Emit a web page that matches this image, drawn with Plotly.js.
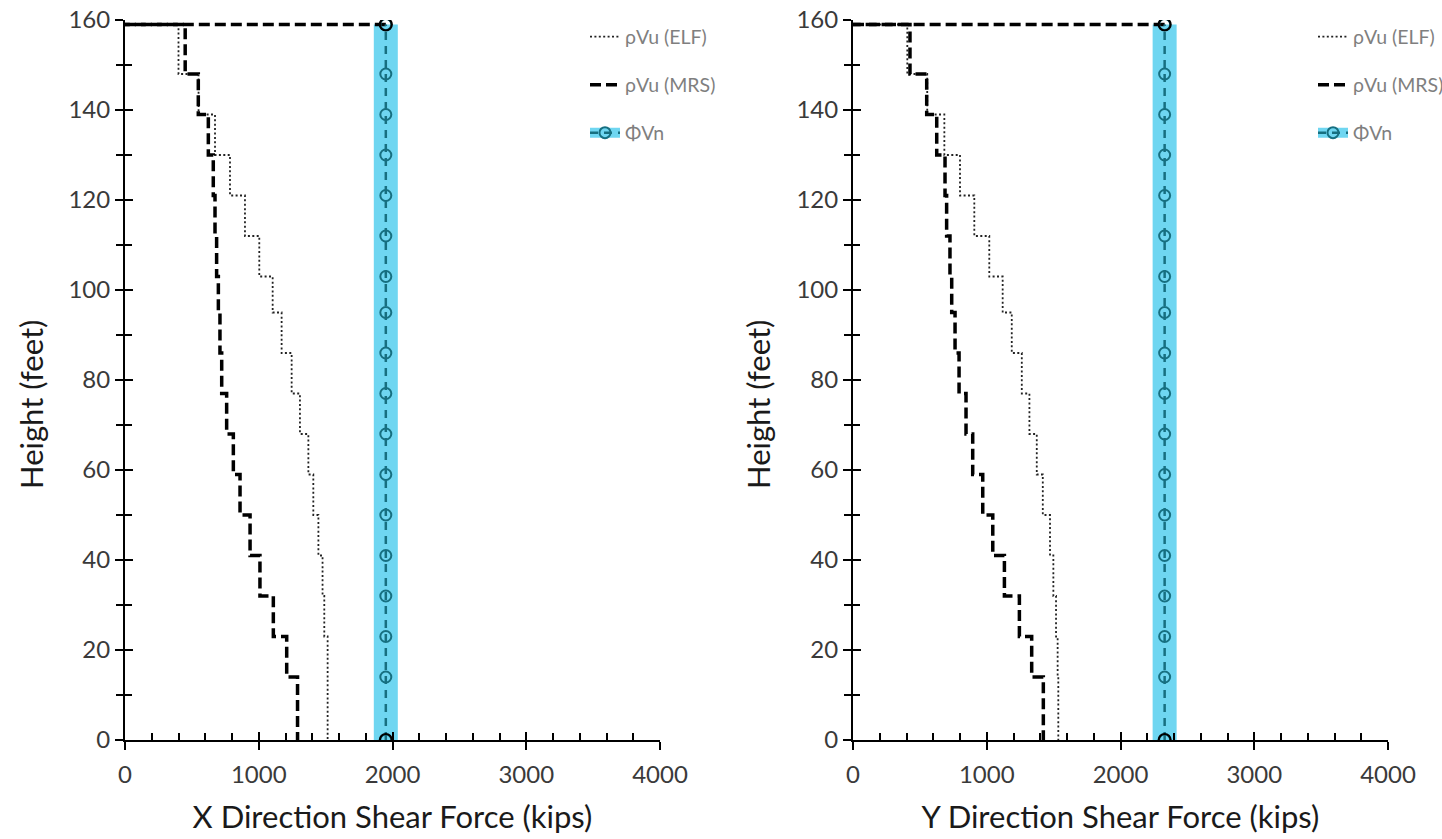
<!DOCTYPE html>
<html><head><meta charset="utf-8">
<script src="https://cdn.plot.ly/plotly-3.0.1.min.js"></script>
<style>html,body{margin:0;padding:0;background:#fff;overflow:hidden}</style>
</head><body><div id="chart" style="width:1442px;height:839px"></div>
<script>
// Floor heights (feet), bottom to top
const heights = [0, 14, 23, 32, 41, 50, 59, 68, 77, 86, 95, 103, 112, 121, 130, 139, 148, 159];
// Story shears (kips), listed bottom story to top story
const elfX = [1515, 1515, 1490, 1477, 1446, 1408, 1371, 1308, 1246, 1171, 1104, 1004, 897, 785, 673, 550, 400];
const mrsX = [1290, 1209, 1109, 1009, 935, 860, 810, 760, 723, 710, 698, 685, 673, 660, 623, 548, 450];
const elfY = [1535, 1530, 1518, 1498, 1473, 1419, 1374, 1319, 1262, 1187, 1119, 1019, 907, 800, 683, 555, 406];
const mrsY = [1423, 1336, 1244, 1132, 1045, 970, 895, 845, 793, 763, 738, 725, 700, 688, 626, 551, 426];
const phiVnX = 1950;
const phiVnY = 2330;
const seriesNames = ['ρVu (ELF)', 'ρVu (MRS)', 'ΦVn'];
const xTitles = ['X Direction Shear Force (kips)', 'Y Direction Shear Force (kips)'];
const yTitle = 'Height (feet)';
const xTicks = [0, 1000, 2000, 3000, 4000];
const yTicks = [0, 20, 40, 60, 80, 100, 120, 140, 160];

const W = 1442, H = 839;
const FONT = 'Lato';
const TEAL = '#176f80';
const BAND = '#6fd6f1';
const topH = heights[heights.length - 1];

function stepPath(vals) {
  const xs = [0], ys = [topH];
  for (let i = vals.length - 1; i >= 0; i--) {
    xs.push(vals[i], vals[i]);
    ys.push(heights[i + 1], heights[i]);
  }
  return {x: xs, y: ys};
}

function panel(elf, mrs, phi, xa, ya, legs) {
  const e = stepPath(elf), m = stepPath(mrs);
  const phiXs = heights.map(() => phi);
  const ends = [0, heights.length - 1];
  return [
    {type: 'scatter', mode: 'lines', x: phiXs, y: heights, xaxis: xa, yaxis: ya,
     name: seriesNames[2], legend: legs[2], line: {color: BAND, width: 24},
     hoverinfo: 'skip'},
    {type: 'scatter', mode: 'lines', x: e.x, y: e.y, xaxis: xa, yaxis: ya,
     name: seriesNames[0], legend: legs[0], line: {color: '#222', width: 1.8, dash: '2px,2.4px'}},
    {type: 'scatter', mode: 'lines', x: [phi, 0], y: [topH, topH], xaxis: xa, yaxis: ya,
     showlegend: false, line: {color: 'black', width: 3.5, dash: '11px,5px'}},
    {type: 'scatter', mode: 'lines', x: m.x, y: m.y, xaxis: xa, yaxis: ya,
     name: seriesNames[1], legend: legs[1], line: {color: 'black', width: 3.5, dash: '11px,5px'}},
    {type: 'scatter', mode: 'lines+markers', x: phiXs, y: heights, xaxis: xa, yaxis: ya,
     name: seriesNames[2], legend: legs[3],
     line: {color: TEAL, width: 2.5, dash: '8px,6px'},
     marker: {symbol: 'circle-open', size: 11, color: TEAL, line: {width: 2, color: TEAL}}},
    {type: 'scatter', mode: 'markers', x: ends.map(i => phiXs[i]), y: ends.map(i => heights[i]),
     xaxis: xa, yaxis: ya, showlegend: false,
     marker: {symbol: 'circle-open', size: 12, color: 'black', line: {width: 2.2, color: 'black'}}}
  ];
}

const data = [].concat(
  panel(elfX, mrsX, phiVnX, 'x', 'y', ['legend', 'legend2', 'legend3', 'legend4']),
  panel(elfY, mrsY, phiVnY, 'x2', 'y2', ['legend5', 'legend6', 'legend7', 'legend8']),
  [
    {type: 'scatter', x: [], y: [], xaxis: 'x', yaxis: 'y3', showlegend: false},
    {type: 'scatter', x: [], y: [], xaxis: 'x3', yaxis: 'y', showlegend: false},
    {type: 'scatter', x: [], y: [], xaxis: 'x2', yaxis: 'y4', showlegend: false},
    {type: 'scatter', x: [], y: [], xaxis: 'x4', yaxis: 'y2', showlegend: false}
  ]
);

const tickFont = {family: FONT, size: 24, color: '#3a3a3a'};
const titleFont = {family: FONT, size: 31, color: '#1a1a1a'};
const yDom = [(H - 740) / H, (H - 20) / H];
const xDomL = [125 / W, 660 / W];
const xDomR = [853 / W, 1388 / W];

function xMain(dom, anchor, title) {
  return {domain: dom, anchor: anchor, range: [0, 4000], tickvals: xTicks,
    showgrid: false, zeroline: false, showline: true, linecolor: 'black', linewidth: 2,
    ticks: 'outside', ticklen: 8, tickwidth: 2, tickcolor: 'black',
    tickfont: tickFont, ticklabelstandoff: 4,
    title: {text: title, font: titleFont, standoff: 20}};
}
function xOver(over, anchor) {
  return {overlaying: over, anchor: anchor, range: [0, 4000], tickvals: xTicks,
    showgrid: false, zeroline: false, showline: false, showticklabels: false,
    ticks: 'inside', ticklen: 8, tickwidth: 2, tickcolor: 'black',
    minor: {dtick: 200, tick0: 0, ticks: 'inside', ticklen: 7, tickwidth: 2, tickcolor: 'black', showgrid: false}};
}
function yMain(anchor) {
  return {domain: yDom, anchor: anchor, range: [0, 160], tickvals: yTicks,
    showgrid: false, zeroline: false, showline: true, linecolor: 'black', linewidth: 2,
    ticks: 'outside', ticklen: 8, tickwidth: 2, tickcolor: 'black',
    minor: {dtick: 10, tick0: 0, ticks: 'outside', ticklen: 7, tickwidth: 2, tickcolor: 'black', showgrid: false},
    tickfont: tickFont, ticklabelstandoff: 0};
}
function yOver(over, anchor) {
  return {overlaying: over, anchor: anchor, range: [0, 160], tickvals: yTicks,
    showgrid: false, zeroline: false, showline: false, showticklabels: false,
    ticks: 'inside', ticklen: 8, tickwidth: 2, tickcolor: 'black',
    minor: {dtick: 10, tick0: 0, ticks: 'inside', ticklen: 7, tickwidth: 2, tickcolor: 'black', showgrid: false}};
}
function leg(xpx, ypx, color) {
  return {x: xpx / W, y: 1 - ypx / H, xanchor: 'left', yanchor: 'middle',
    bgcolor: 'rgba(0,0,0,0)', borderwidth: 0,
    font: {family: FONT, size: 19.5, color: color || '#7f7f7f'}};
}
function yTitleAnn(xpx) {
  return {text: yTitle, textangle: -90, xref: 'paper', yref: 'paper',
    x: xpx / W, y: 1 - 405 / H, xanchor: 'center', yanchor: 'middle',
    showarrow: false, font: titleFont};
}

const LX = 585, RX = 1313;
const layout = {
  width: W, height: H,
  margin: {l: 0, r: 0, t: 0, b: 0, autoexpand: false},
  paper_bgcolor: 'white', plot_bgcolor: 'white',
  font: {family: FONT},
  xaxis: xMain(xDomL, 'y', xTitles[0]),
  yaxis: yMain('x'),
  xaxis2: xMain(xDomR, 'y2', xTitles[1]),
  yaxis2: yMain('x2'),
  xaxis3: xOver('x', 'y'),
  yaxis3: yOver('y', 'x'),
  xaxis4: xOver('x2', 'y2'),
  yaxis4: yOver('y2', 'x2'),
  legend: leg(LX, 37),
  legend2: leg(LX, 85),
  legend3: leg(LX, 133, 'rgba(0,0,0,0)'),
  legend4: leg(LX, 133),
  legend5: leg(RX, 37),
  legend6: leg(RX, 85),
  legend7: leg(RX, 133, 'rgba(0,0,0,0)'),
  legend8: leg(RX, 133),
  annotations: [yTitleAnn(31), yTitleAnn(758)],
  showlegend: true
};

Plotly.newPlot('chart', data, layout, {displayModeBar: false, staticPlot: true});
</script>
</body></html>
